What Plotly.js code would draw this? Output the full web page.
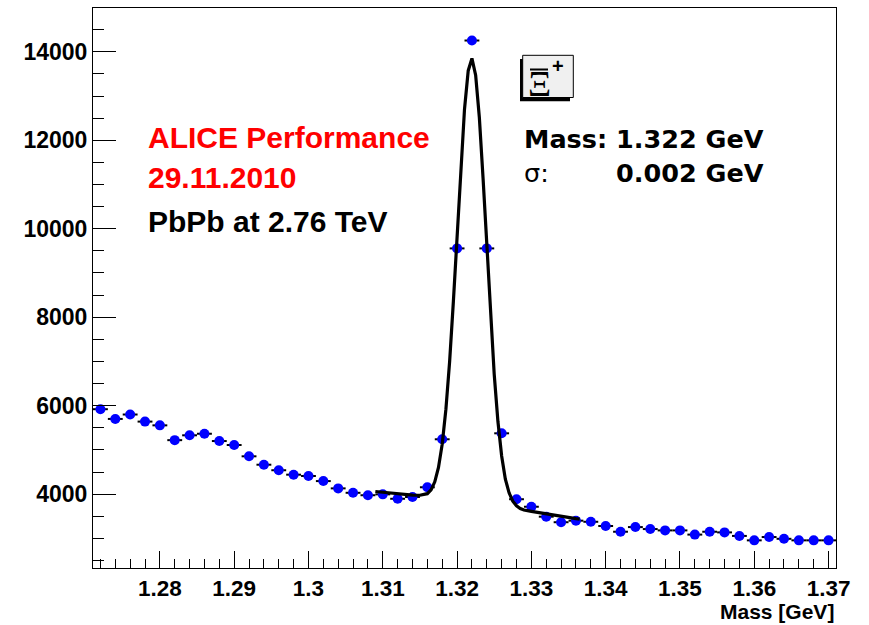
<!DOCTYPE html>
<html>
<head>
<meta charset="utf-8">
<script src="https://cdn.plot.ly/plotly-3.0.1.min.js"></script>
<style>html,body{margin:0;padding:0;background:#fff;}#chart{width:869px;height:625px;}</style>
</head>
<body>
<div id="chart"></div>
<script>
// ---- data ----
var massBins = [1.272,1.274,1.276,1.278,1.280,1.282,1.284,1.286,1.288,1.290,
                1.292,1.294,1.296,1.298,1.300,1.302,1.304,1.306,1.308,1.310,
                1.312,1.314,1.316,1.318,1.320,1.322,1.324,1.326,1.328,1.330,
                1.332,1.334,1.336,1.338,1.340,1.342,1.344,1.346,1.348,1.350,
                1.352,1.354,1.356,1.358,1.360,1.362,1.364,1.366,1.368,1.370];
var counts = [5920,5700,5800,5640,5555,5220,5330,5365,5200,5110,
              4855,4665,4540,4440,4410,4295,4130,4030,3975,3995,
              3895,3935,4155,5240,9555,14255,9555,5375,3885,3715,
              3490,3365,3400,3375,3280,3150,3255,3210,3180,3180,
              3085,3150,3135,3055,2955,3030,2990,2955,2955,2955];
var fitMass = [1.309,1.310,1.311,1.312,1.313,1.314,1.315,1.3155,1.316,1.3165,
               1.317,1.3175,1.318,1.3185,1.319,1.3195,1.320,1.3205,1.321,1.3215,
               1.322,1.3225,1.323,1.3235,1.324,1.3245,1.325,1.3255,1.326,1.3265,
               1.327,1.3275,1.328,1.3285,1.329,1.330,1.331,1.332,1.333,1.334,
               1.335,1.336,1.3365];
var fitCounts = [4060,4040,4020,4005,3990,3978,3975,3985,4010,4095,
                 4278,4603,5130,5921,6999,8347,9760,11391,12701,13573,
                 13849,13471,12512,11140,9583,8052,6709,5641,4861,4337,
                 4030,3840,3735,3675,3640,3610,3580,3555,3530,3505,
                 3470,3445,3435];
var xTickVals = [1.28,1.29,1.30,1.31,1.32,1.33,1.34,1.35,1.36,1.37];
var xTickText = ['1.28','1.29','1.3','1.31','1.32','1.33','1.34','1.35','1.36','1.37'];
var binHalfWidth = 0.001;

// ---- geometry helpers (plot area in pixels: x 93..836, y 8..568) ----
function px(x){ return (x-93)/743; }
function py(y){ return (568-y)/560; }

var FONT = 'Liberation Sans, Arial, sans-serif';

var traces = [
  {
    type:'scatter', mode:'markers', x:massBins, y:counts,
    marker:{color:'#0000ff', size:10, symbol:'circle', line:{width:0}},
    error_x:{type:'constant', value:binHalfWidth, color:'#000', thickness:2, width:0},
    hoverinfo:'x+y', showlegend:false
  },
  {
    type:'scatter', mode:'lines', x:fitMass, y:fitCounts,
    line:{color:'#000', width:3.2}, showlegend:false, hoverinfo:'skip'
  }
];

var layout = {
  width:869, height:625,
  margin:{l:93, r:33, t:8, b:57, pad:0},
  paper_bgcolor:'#fff', plot_bgcolor:'#fff',
  showlegend:false,
  xaxis:{
    range:[1.271,1.371], tickmode:'array', tickvals:xTickVals, ticktext:xTickText,
    ticks:'inside', ticklen:17, tickwidth:1, tickcolor:'#000',
    showline:true, linecolor:'#000', linewidth:1, mirror:true,
    showgrid:false, zeroline:false,
    tickfont:{family:FONT, size:22.5, color:'#000', weight:'bold'},
    minor:{dtick:0.002, tick0:1.27, ticks:'inside', ticklen:9, tickwidth:1, tickcolor:'#000', showgrid:false}
  },
  yaxis:{
    range:[2330,14990], tick0:0, dtick:2000, tickformat:'d',
    ticks:'inside', ticklen:23, tickwidth:1, tickcolor:'#000',
    showline:true, linecolor:'#000', linewidth:1, mirror:true,
    showgrid:false, zeroline:false,
    tickfont:{family:FONT, size:23, color:'#000', weight:'bold'},
    minor:{dtick:500, tick0:0, ticks:'inside', ticklen:11, tickwidth:1, tickcolor:'#000', showgrid:false}
  },
  shapes:[
    {type:'rect', xref:'paper', yref:'paper', x0:px(520), x1:px(570), y0:py(101.3), y1:py(59), fillcolor:'#000', line:{width:0}},
    {type:'rect', xref:'paper', yref:'paper', x0:px(522.7), x1:px(573.3), y0:py(97.5), y1:py(55.3), fillcolor:'#f0f0f0', line:{color:'#000', width:1}},
    {type:'line', xref:'paper', yref:'paper', x0:px(530), x1:px(548), y0:py(69.5), y1:py(69.5), line:{color:'#000', width:2}}
  ],
  annotations:[
    {xref:'paper', yref:'paper', x:px(146), y:py(137.5), xanchor:'left', yanchor:'middle', showarrow:false,
     text:'<b>ALICE Performance</b>', font:{family:FONT, size:30, color:'#ff0000'}},
    {xref:'paper', yref:'paper', x:px(146), y:py(177.5), xanchor:'left', yanchor:'middle', showarrow:false,
     text:'<b>29.11.2010</b>', font:{family:FONT, size:30, color:'#ff0000'}},
    {xref:'paper', yref:'paper', x:px(146), y:py(221), xanchor:'left', yanchor:'middle', showarrow:false,
     text:'<b>PbPb at 2.76 TeV</b>', font:{family:FONT, size:30, color:'#000'}},
    {xref:'paper', yref:'paper', x:px(522), y:py(139), xanchor:'left', yanchor:'middle', showarrow:false,
     text:'<b>Mass: 1.322 GeV</b>', font:{family:'DejaVu Sans', size:25.5, color:'#000'}},
    {xref:'paper', yref:'paper', x:px(522), y:py(173), xanchor:'left', yanchor:'middle', showarrow:false,
     text:'σ:', font:{family:'DejaVu Sans', size:25.5, color:'#000'}},
    {xref:'paper', yref:'paper', x:px(766), y:py(173), xanchor:'right', yanchor:'middle', showarrow:false,
     text:'<b>0.002 GeV</b>', font:{family:'DejaVu Sans', size:25.5, color:'#000'}},
    {xref:'paper', yref:'paper', x:px(539), y:py(84), xanchor:'center', yanchor:'middle', showarrow:false,
     text:'Ξ', font:{family:'Liberation Serif, serif', size:36, color:'#000'}},
    {xref:'paper', yref:'paper', x:px(557.5), y:py(66), xanchor:'center', yanchor:'middle', showarrow:false,
     text:'<b>+</b>', font:{family:FONT, size:20, color:'#000'}},
    {xref:'paper', yref:'paper', x:px(836), y:py(625), xanchor:'right', yanchor:'bottom', showarrow:false,
     text:'<b>Mass [GeV]</b>', font:{family:FONT, size:21, color:'#000'}}
  ]
};

Plotly.newPlot('chart', traces, layout, {displayModeBar:false, staticPlot:true});
</script>
</body>
</html>
